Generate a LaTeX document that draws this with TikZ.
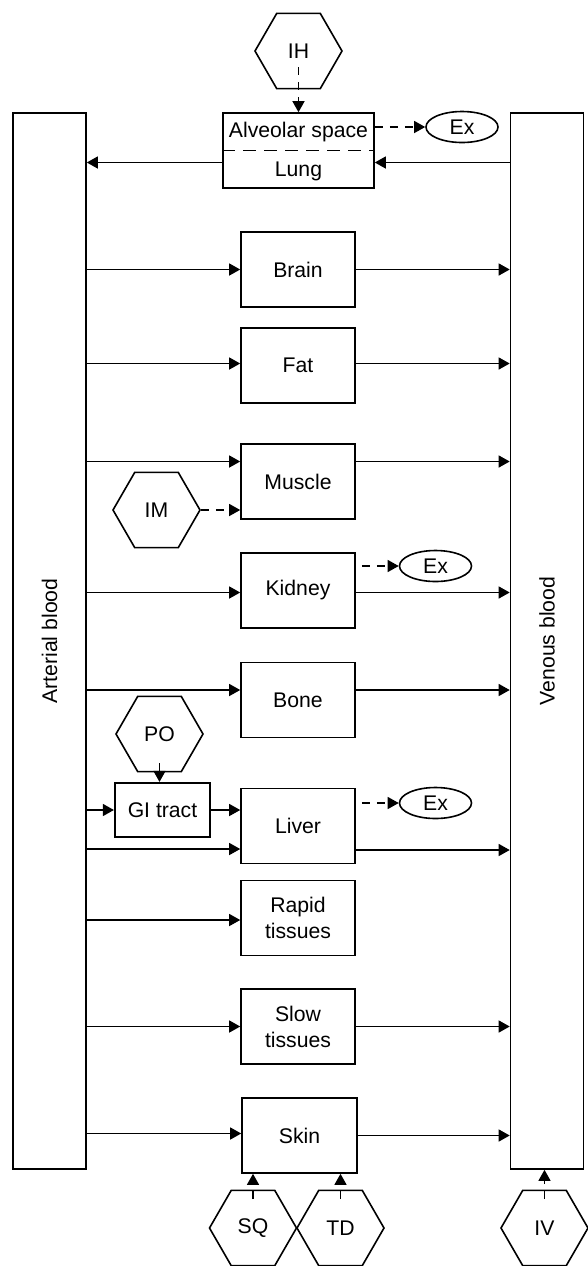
\documentclass[tikz,border=0pt]{standalone}
\usepackage{fontspec}
\setmainfont{Liberation Sans}
\usetikzlibrary{shapes.geometric, arrows.meta}

\begin{document}
\begin{tikzpicture}[x = 0.5pt, y = -0.5pt, line width = 0.8pt,
                    every node/.style = {font = \fontsize{10.6pt}{13pt}\selectfont},
                    organ/.style = {draw, minimum width = 57pt, minimum height = 37.5pt, inner sep = 0pt, align = center},
                    pool/.style = {draw, minimum width = 36.5pt, minimum height = 528pt, inner sep = 0pt},
                    route/.style = {draw, regular polygon, regular polygon sides = 6, minimum size = 43.5pt, inner sep = 0pt},
                    excr/.style = {draw, ellipse, minimum width = 36pt, minimum height = 15.5pt, inner sep = 0pt},
                    flow/.style = {line width = 0.65pt, -{Triangle[length = 5.5pt, width = 6pt]}},
                    dose/.style = {flow, dash pattern = on 4pt off 3.5pt}]

\useasboundingbox (0,0) rectangle (588,1266);

% blood pools
\node [pool] (art) at (49.5,641) {};
\node [pool] (ven) at (547,641) {};
\node [rotate = 90] (artlbl) at (art.center) {Arterial blood};
\node [rotate = 90] (venlbl) at (ven.center) {Venous blood};

% lung
\node [organ, minimum width = 75.5pt] (lung) at (298.5,150.5) {};
\draw [dash pattern = on 6.5pt off 4pt] (lung.west) -- (lung.east);
\node (alv) at (298.5,132) {Alveolar space};
\node (lunglbl) at (298.5,171) {Lung};

% tissues
\node [organ] (brain) at (298,269.5) {Brain};
\node [organ] (fat) at (298,365.5) {Fat};
\node [organ] (muscle) at (298,481.5) {Muscle};
\node [organ] (kidney) at (298,590.5) {Kidney};
\node [organ] (bone) at (298,700) {Bone};
\node [organ] (liver) at (298,826) {Liver};
\node [organ] (rapid) at (298,918) {Rapid\\tissues};
\node [organ] (slow) at (298,1026.5) {Slow\\tissues};
\node [organ, minimum width = 57.5pt] (skin) at (299.5,1135.5) {Skin};
\node [organ, minimum width = 47.5pt, minimum height = 27pt, line width = 1.1pt] (gi) at (162.5,810) {GI tract};

% routes of dosing
\node [route] (IH) at (298.5,51) {IH};
\node [route] (IM) at (156.5,510) {IM};
\node [route] (PO) at (159.5,734) {PO};
\node [route] (SQ) at (253,1228) {SQ};
\node [route] (TD) at (340.5,1228) {TD};
\node [route] (IV) at (544.5,1228) {IV};

% excretion
\node [excr] (exlung) at (462,127) {Ex};
\node [excr] (exkid) at (435.5,566) {Ex};
\node [excr] (exliv) at (435.5,803) {Ex};

% lung circulation
\draw [flow] ([yshift = -6pt]ven.west |- lung.east) -- ([yshift = -6pt]lung.east);
\draw [flow] ([yshift = -6pt]lung.west) -- ([yshift = -6pt]art.east |- lung.west);
\draw [dose] ([yshift = -8pt]IH.center) -- (lung.north);
\draw [dose] (lung.east |- exlung.west) -- (exlung.west);

% arterial supply
\draw [flow] (art.east |- brain.west) -- (brain.west);
\draw [flow] ([yshift = 1pt]art.east |- fat.west) -- ([yshift = 1pt]fat.west);
\draw [flow] ([yshift = 10pt]art.east |- muscle.west) -- ([yshift = 10pt]muscle.west);
\draw [flow] ([yshift = -1pt]art.east |- kidney.west) -- ([yshift = -1pt]kidney.west);
\draw [flow] ([yshift = 5pt]art.east |- bone.west) -- ([yshift = 5pt]bone.west);
\draw [flow] (art.east |- gi.west) -- (gi.west);
\draw [flow] (gi.east) -- (gi.east -| liver.west);
\draw [flow] ([yshift = -11.5pt]art.east |- liver.west) -- ([yshift = -11.5pt]liver.west);
\draw [flow] ([yshift = -1pt]art.east |- rapid.west) -- ([yshift = -1pt]rapid.west);
\draw [flow] (art.east |- slow.west) -- (slow.west);
\draw [flow] ([yshift = 1pt]art.east |- skin.west) -- ([yshift = 1pt]skin.west);

% venous return
\draw [flow] (brain.east) -- (brain.east -| ven.west);
\draw [flow] ([yshift = 1pt]fat.east) -- ([yshift = 1pt]fat.east -| ven.west);
\draw [flow] ([yshift = 10pt]muscle.east) -- ([yshift = 10pt]muscle.east -| ven.west);
\draw [flow] ([yshift = -1pt]kidney.east) -- ([yshift = -1pt]kidney.east -| ven.west);
\draw [flow] ([yshift = 5pt]bone.east) -- ([yshift = 5pt]bone.east -| ven.west);
\draw [flow] ([yshift = -12pt]liver.east) -- ([yshift = -12pt]liver.east -| ven.west);
\draw [flow] (slow.east) -- (slow.east -| ven.west);
\draw [flow] (skin.east) -- (skin.east -| ven.west);

% dosing and excretion
\draw [dose] (IM.east) -- (IM.east -| muscle.west);
\draw [flow] ([yshift = -14.5pt]PO.center) -- (PO.center |- gi.north);
\draw [dose] ([xshift = 3pt]kidney.east |- exkid.west) -- (exkid.west);
\draw [dose] ([xshift = 3pt]liver.east |- exliv.west) -- (exliv.west);
\draw [dose] ([yshift = 14.5pt]SQ.center) -- (SQ.center |- skin.south);
\draw [dose] ([yshift = 14.5pt]TD.center) -- (TD.center |- skin.south);
\draw [dose] ([yshift = 14.5pt]IV.center) -- (IV.center |- ven.south);
\end{tikzpicture}
\end{document}
